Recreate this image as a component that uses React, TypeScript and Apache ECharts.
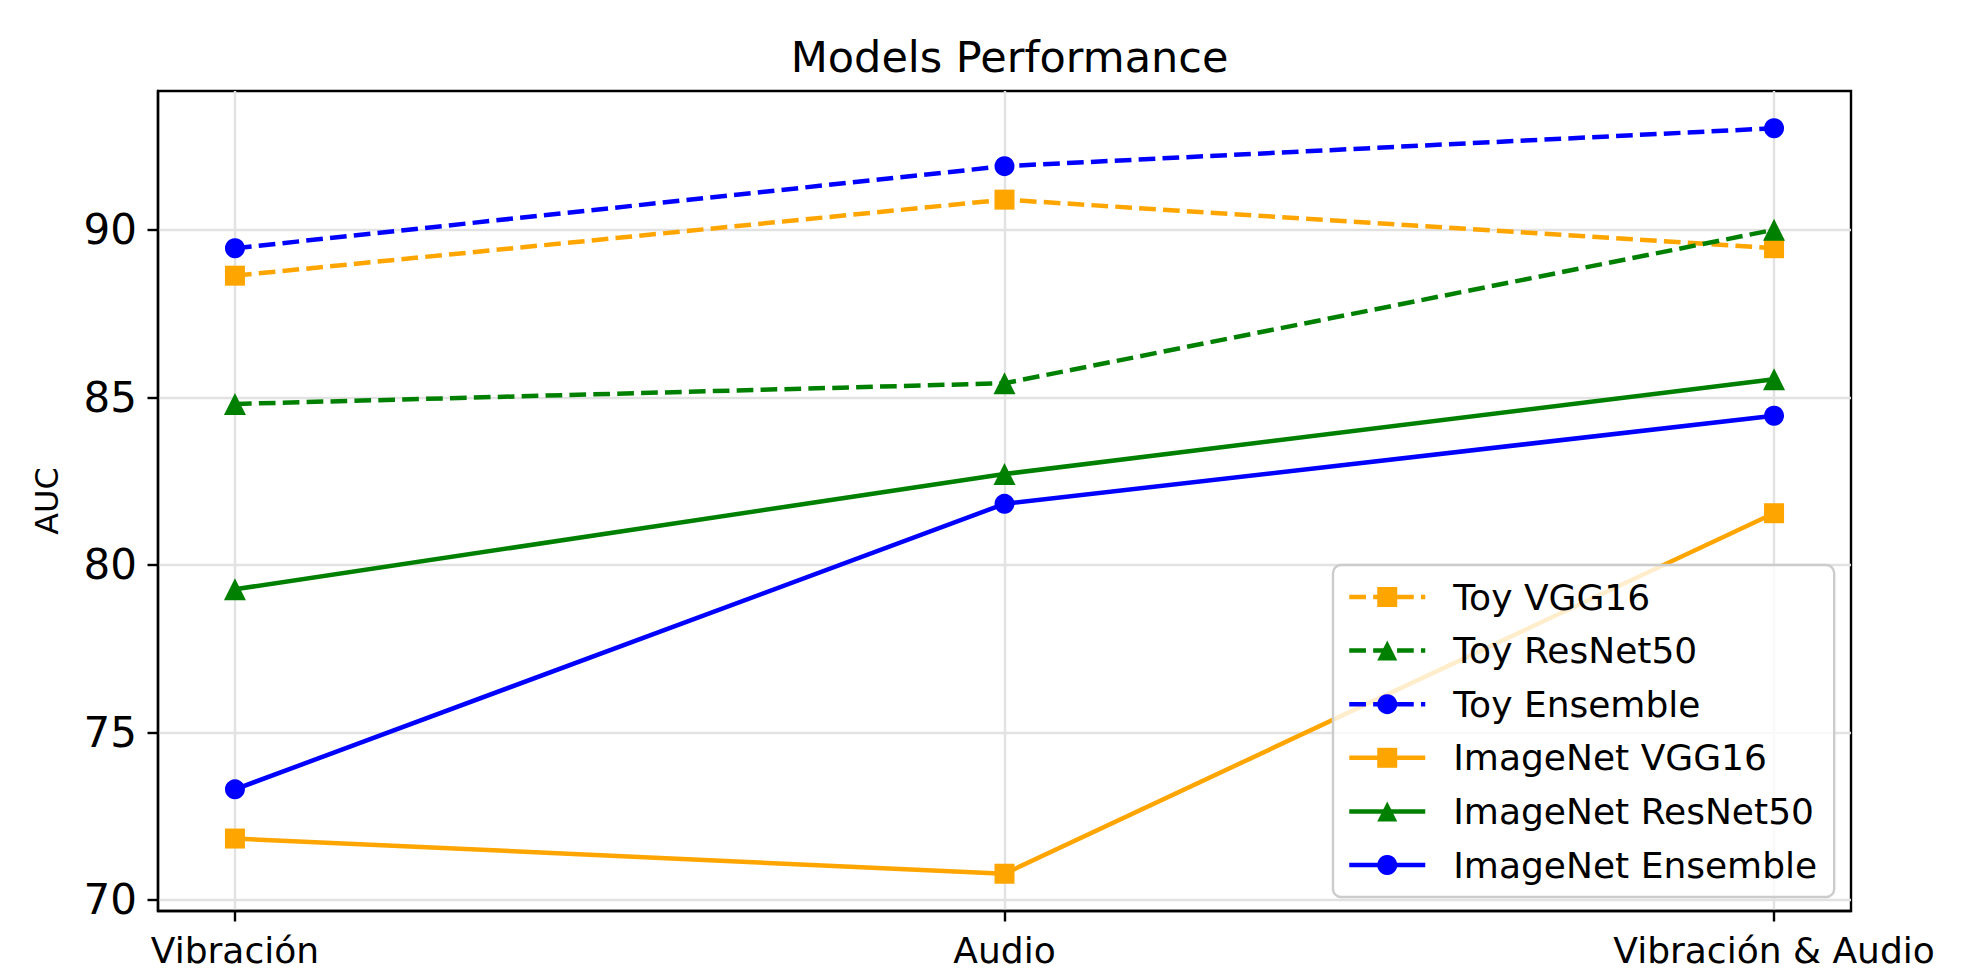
import React, { useEffect, useRef } from "react";
import * as echarts from "echarts";

const categories = ["Vibración", "Audio", "Vibración & Audio"];
const yTicks = [70, 75, 80, 85, 90];

const seriesNames = [
  "Toy VGG16",
  "Toy ResNet50",
  "Toy Ensemble",
  "ImageNet VGG16",
  "ImageNet ResNet50",
  "ImageNet Ensemble",
];
const toyVGG16 = [88.63, 90.9, 89.45];
const toyResNet50 = [84.8, 85.42, 90.0];
const toyEnsemble = [89.45, 91.9, 93.03];
const imagenetVGG16 = [71.83, 70.78, 81.54];
const imagenetResNet50 = [79.27, 82.71, 85.54];
const imagenetEnsemble = [73.3, 81.82, 84.45];

const ORANGE = "#FFA500";
const GREEN = "#008000";
const BLUE = "#0000FF";
const FONT = "DejaVu Sans";

export default function App() {
  const ref = useRef<HTMLDivElement>(null);

  useEffect(() => {
    if (!ref.current) return;
    const chart = echarts.init(ref.current, null, { renderer: "svg" });

    const all = [
      toyVGG16,
      toyResNet50,
      toyEnsemble,
      imagenetVGG16,
      imagenetResNet50,
      imagenetEnsemble,
    ];
    const flat = all.flat();
    const dMin = Math.min(...flat);
    const dMax = Math.max(...flat);
    const pad = (dMax - dMin) * 0.05;

    const colors = [ORANGE, GREEN, BLUE, ORANGE, GREEN, BLUE];
    const symbols = ["rect", "triangle", "circle", "rect", "triangle", "circle"];
    const sizes = [20, 22, 20, 20, 22, 20];
    const dashed = [true, true, true, false, false, false];

    const series = all.map((vals, i) => ({
      name: seriesNames[i],
      type: "line",
      data: vals.map((v, j) => [j, v]),
      symbol: symbols[i],
      symbolSize: sizes[i],
      showAllSymbol: true,
      itemStyle: { color: colors[i] },
      lineStyle: {
        color: colors[i],
        width: 4.5,
        type: dashed[i] ? [16.7, 7.2] : "solid",
      },
      emphasis: { disabled: true },
    }));

    chart.setOption({
      animation: false,
      backgroundColor: "#ffffff",
      title: {
        text: "Models Performance",
        left: 1004.5,
        top: 30,
        textAlign: "center",
        textStyle: {
          fontFamily: FONT,
          fontSize: 43,
          fontWeight: "normal",
          color: "#000",
        },
      },
      grid: {
        left: 158,
        right: 133,
        top: 91,
        bottom: 62,
        show: true,
        borderColor: "#000",
        borderWidth: 2.4,
        backgroundColor: "transparent",
        outerBoundsMode: "none",
        containLabel: false,
      },
      legend: {
        data: seriesNames,
        orient: "vertical",
        left: 1333,
        top: 565,
        padding: [14, 17, 14, 14],
        itemWidth: 76,
        itemHeight: 25,
        itemGap: 17.6,
        backgroundColor: "rgba(255,255,255,0.8)",
        borderColor: "#cccccc",
        borderWidth: 2.4,
        borderRadius: 8,
        lineStyle: { width: 4.5, type: "inherit" },
        textStyle: {
          fontFamily: FONT,
          fontSize: 36,
          color: "#000",
          lineHeight: 36,
          padding: [0, 0, 0, 23],
        },
      },
      xAxis: {
        type: "value",
        min: -0.1,
        max: 2.1,
        axisLine: {
          show: true,
          onZero: false,
          lineStyle: { color: "#000", width: 2.4 },
        },
        axisTick: {
          show: true,
          length: 10.5,
          inside: false,
          customValues: [0, 1, 2],
          lineStyle: { color: "#000", width: 2.4 },
        },
        axisLabel: {
          customValues: [0, 1, 2],
          formatter: (v: number) => categories[Math.round(v)] ?? "",
          fontFamily: FONT,
          fontSize: 36,
          color: "#000",
          margin: 21,
        },
        splitLine: { show: true, lineStyle: { color: "#e2e2e2", width: 2.4 } },
      },
      yAxis: {
        type: "value",
        min: dMin - pad,
        max: dMax + pad,
        name: "AUC",
        nameLocation: "middle",
        nameGap: 95,
        nameRotate: 90,
        nameTextStyle: { fontFamily: FONT, fontSize: 32, color: "#000" },
        axisLine: {
          show: true,
          onZero: false,
          lineStyle: { color: "#000", width: 2.4 },
        },
        axisTick: {
          show: true,
          length: 10.5,
          inside: false,
          customValues: yTicks,
          lineStyle: { color: "#000", width: 2.4 },
        },
        axisLabel: {
          customValues: yTicks,
          fontFamily: FONT,
          fontSize: 42,
          color: "#000",
          margin: 21,
        },
        splitLine: { show: true, lineStyle: { color: "#e2e2e2", width: 2.4 } },
      },
      series,
    });

    return () => chart.dispose();
  }, []);

  return (
    <div
      ref={ref}
      style={{ position: "fixed", left: 0, top: 0, width: 1984, height: 973 }}
    />
  );
}
